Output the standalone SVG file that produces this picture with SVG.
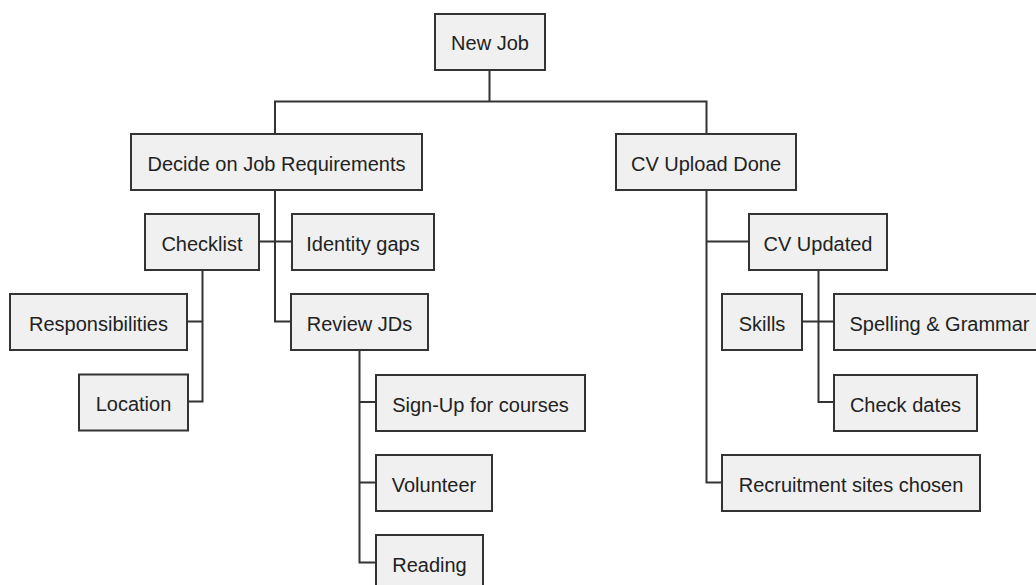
<svg xmlns="http://www.w3.org/2000/svg" width="1036" height="585" viewBox="0 0 1036 585">
<style>
.n rect{fill:#f0f0f0;stroke:#333;stroke-width:2}
.n text{font-family:"Liberation Sans",Arial,sans-serif;font-size:20px;fill:#222;text-anchor:middle}
#connectors path{fill:none;stroke:#333;stroke-width:2}
</style>
<rect width="1036" height="585" fill="#fff"/>
<g id="connectors">
<path d="M489.5 70V101.5M275 101.5H706.5M275 100.5V134M706.5 100.5V134"/>
<path d="M275 190V321.5H291M259 241.5H292"/>
<path d="M202.5 270V401.5H188M187 321.5H202.5"/>
<path d="M359.5 350V562.5H376M359.5 402H376M359.5 482.5H376"/>
<path d="M706.5 190V482.5H722M706.5 241.5H749"/>
<path d="M818.5 270V402H834M802 321.5H834"/>
</g>
<g id="new-job" class="n"><rect x="435" y="14" width="110" height="56"/><text x="490" y="50">New Job</text></g>
<g id="decide" class="n"><rect x="131" y="134" width="291" height="56"/><text x="276.5" y="170.5">Decide on Job Requirements</text></g>
<g id="cv-upload" class="n"><rect x="616" y="134" width="180" height="56"/><text x="706" y="170.5">CV Upload Done</text></g>
<g id="checklist" class="n"><rect x="145" y="214" width="114" height="56"/><text x="202" y="250.5">Checklist</text></g>
<g id="identity-gaps" class="n"><rect x="292" y="214" width="142" height="56"/><text x="363" y="250.5">Identity gaps</text></g>
<g id="cv-updated" class="n"><rect x="749" y="214" width="138" height="56"/><text x="818" y="250.5">CV Updated</text></g>
<g id="responsibilities" class="n"><rect x="10" y="294" width="177" height="56"/><text x="98.5" y="330.5">Responsibilities</text></g>
<g id="review-jds" class="n"><rect x="291" y="294" width="137" height="56"/><text x="359.5" y="330.5">Review JDs</text></g>
<g id="skills" class="n"><rect x="722" y="294" width="80" height="56"/><text x="762" y="330.5">Skills</text></g>
<g id="spelling" class="n"><rect x="834" y="294" width="211" height="56"/><text x="939.5" y="330.5">Spelling &amp; Grammar</text></g>
<g id="location" class="n"><rect x="79" y="374.5" width="109" height="56"/><text x="133.5" y="411">Location</text></g>
<g id="sign-up" class="n"><rect x="376" y="375" width="209" height="56"/><text x="480.5" y="411.5">Sign-Up for courses</text></g>
<g id="check-dates" class="n"><rect x="834" y="375" width="143" height="56"/><text x="905.5" y="411.5">Check dates</text></g>
<g id="volunteer" class="n"><rect x="376" y="455" width="116" height="56"/><text x="434" y="491.5">Volunteer</text></g>
<g id="recruitment" class="n"><rect x="722" y="455" width="258" height="56"/><text x="851" y="491.5">Recruitment sites chosen</text></g>
<g id="reading" class="n"><rect x="376" y="535" width="107" height="56"/><text x="429.5" y="571.5">Reading</text></g>
</svg>
